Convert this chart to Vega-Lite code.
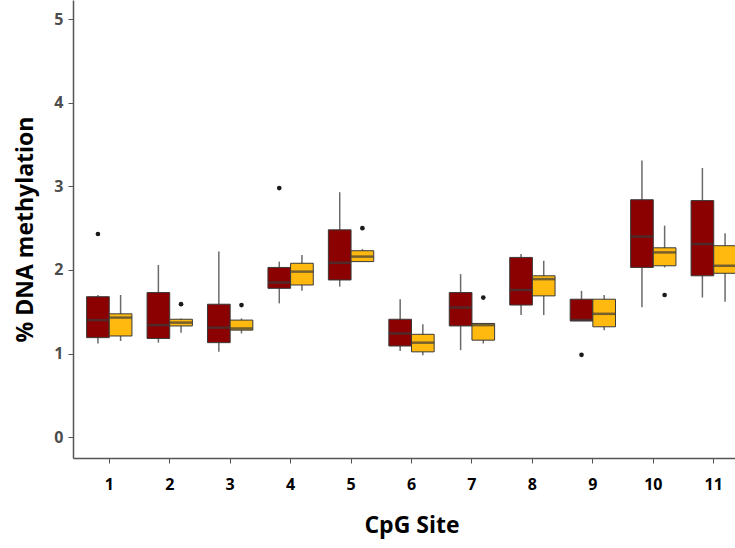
{
  "$schema": "https://vega.github.io/schema/vega-lite/v6.json",
  "autosize": {"type": "none"},
  "width": 662,
  "height": 458,
  "padding": {"left": 73, "top": 0, "right": 0, "bottom": 90},
  "background": "white",
  "datasets": {
    "boxes": [
      {"site": "1", "group": "A", "lower": 1.12, "q1": 1.19, "median": 1.40, "q3": 1.68, "upper": 1.70},
      {"site": "1", "group": "B", "lower": 1.15, "q1": 1.21, "median": 1.43, "q3": 1.475, "upper": 1.70},
      {"site": "2", "group": "A", "lower": 1.13, "q1": 1.18, "median": 1.34, "q3": 1.73, "upper": 2.06},
      {"site": "2", "group": "B", "lower": 1.25, "q1": 1.33, "median": 1.37, "q3": 1.41, "upper": 1.42},
      {"site": "3", "group": "A", "lower": 1.02, "q1": 1.13, "median": 1.31, "q3": 1.59, "upper": 2.22},
      {"site": "3", "group": "B", "lower": 1.24, "q1": 1.28, "median": 1.30, "q3": 1.40, "upper": 1.42},
      {"site": "4", "group": "A", "lower": 1.60, "q1": 1.78, "median": 1.85, "q3": 2.03, "upper": 2.10},
      {"site": "4", "group": "B", "lower": 1.75, "q1": 1.82, "median": 1.98, "q3": 2.08, "upper": 2.18},
      {"site": "5", "group": "A", "lower": 1.80, "q1": 1.88, "median": 2.085, "q3": 2.48, "upper": 2.93},
      {"site": "5", "group": "B", "lower": 2.10, "q1": 2.10, "median": 2.16, "q3": 2.23, "upper": 2.25},
      {"site": "6", "group": "A", "lower": 1.03, "q1": 1.09, "median": 1.24, "q3": 1.41, "upper": 1.65},
      {"site": "6", "group": "B", "lower": 0.98, "q1": 1.02, "median": 1.13, "q3": 1.23, "upper": 1.35},
      {"site": "7", "group": "A", "lower": 1.04, "q1": 1.33, "median": 1.55, "q3": 1.73, "upper": 1.95},
      {"site": "7", "group": "B", "lower": 1.12, "q1": 1.16, "median": 1.34, "q3": 1.36, "upper": 1.36},
      {"site": "8", "group": "A", "lower": 1.46, "q1": 1.58, "median": 1.76, "q3": 2.15, "upper": 2.19},
      {"site": "8", "group": "B", "lower": 1.46, "q1": 1.69, "median": 1.89, "q3": 1.93, "upper": 2.11},
      {"site": "9", "group": "A", "lower": 1.39, "q1": 1.39, "median": 1.40, "q3": 1.65, "upper": 1.75},
      {"site": "9", "group": "B", "lower": 1.28, "q1": 1.32, "median": 1.475, "q3": 1.65, "upper": 1.70},
      {"site": "10", "group": "A", "lower": 1.555, "q1": 2.03, "median": 2.40, "q3": 2.84, "upper": 3.31},
      {"site": "10", "group": "B", "lower": 2.03, "q1": 2.05, "median": 2.21, "q3": 2.265, "upper": 2.53},
      {"site": "11", "group": "A", "lower": 1.67, "q1": 1.93, "median": 2.31, "q3": 2.83, "upper": 3.22},
      {"site": "11", "group": "B", "lower": 1.62, "q1": 1.96, "median": 2.05, "q3": 2.29, "upper": 2.44}
    ],
    "outliers": [
      {"site": "1", "group": "A", "value": 2.43},
      {"site": "2", "group": "B", "value": 1.59},
      {"site": "3", "group": "B", "value": 1.58},
      {"site": "4", "group": "A", "value": 2.98},
      {"site": "5", "group": "B", "value": 2.50},
      {"site": "7", "group": "B", "value": 1.67},
      {"site": "9", "group": "A", "value": 0.985},
      {"site": "10", "group": "B", "value": 1.70}
    ]
  },
  "encoding": {
    "x": {
      "field": "site", "type": "nominal",
      "sort": ["1","2","3","4","5","6","7","8","9","10","11"],
      "scale": {"domain": ["1","2","3","4","5","6","7","8","9","10","11"], "range": [0, 677], "paddingInner": 0.25, "paddingOuter": 0.225},
      "axis": {"title": "CpG Site", "labelAngle": 0}
    },
    "xOffset": {
      "field": "group", "type": "nominal",
      "scale": {"domain": ["A", "B"], "paddingInner": 0, "paddingOuter": 0}
    }
  },
  "layer": [
    {
      "data": {"name": "boxes"},
      "mark": {"type": "rule", "color": "#6b6b6b", "strokeWidth": 1.5, "clip": true},
      "encoding": {
        "y": {"field": "lower", "type": "quantitative",
              "scale": {"domain": [-0.25, 5.23], "nice": false, "zero": false},
              "axis": {"title": "% DNA methylation", "values": [0, 1, 2, 3, 4, 5], "format": "d"}},
        "y2": {"field": "upper"}
      }
    },
    {
      "data": {"name": "boxes"},
      "mark": {"type": "bar", "stroke": "#3a3a3a", "strokeWidth": 1, "clip": true},
      "encoding": {
        "y": {"field": "q1", "type": "quantitative"},
        "y2": {"field": "q3"},
        "color": {"field": "group", "type": "nominal",
                  "scale": {"domain": ["A", "B"], "range": ["#8B0000", "#FFB90F"]}, "legend": null}
      }
    },
    {
      "data": {"name": "boxes"},
      "mark": {"type": "tick", "color": "#3a3a3a", "thickness": 2.5, "size": 22.5, "clip": true},
      "encoding": {
        "y": {"field": "median", "type": "quantitative"}
      }
    },
    {
      "data": {"name": "outliers"},
      "mark": {"type": "point", "filled": true, "color": "#1a1a1a", "size": 22, "opacity": 1, "clip": true},
      "encoding": {
        "y": {"field": "value", "type": "quantitative"}
      }
    }
  ],
  "config": {
    "view": {"stroke": null},
    "axis": {
      "grid": false,
      "domainColor": "#555555",
      "domainWidth": 1.5,
      "tickColor": "#555555",
      "tickWidth": 1,
      "tickSize": 5,
      "labelFont": "Open Sans",
      "labelFontWeight": "bold",
      "labelFontSize": 16,
      "titleFont": "Open Sans",
      "titleFontWeight": "bold",
      "titleFontSize": 23,
      "titleColor": "#000000"
    },
    "axisX": {"labelColor": "#000000", "labelPadding": 13, "titlePadding": 22},
    "axisY": {"labelColor": "#4d4d4d", "labelPadding": 5, "titlePadding": 16}
  }
}
